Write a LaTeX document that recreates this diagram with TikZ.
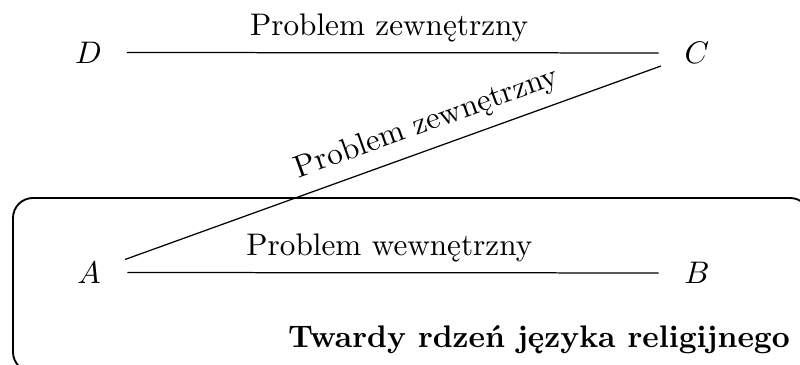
\documentclass[tikz,border=0pt]{standalone}
\usepackage{fontspec}
\begin{document}
\begin{tikzpicture}[x=0.3205pt,y=-0.3205pt,
  pt/.style={inner sep=3.333pt},
  conn/.style={line width=0.4pt,shorten <=12.3pt,shorten >=12.3pt},
  core/.style={line width=0.6pt,rounded corners=6.4pt},
  lab/.style={font=\normalsize,pos=0.494,above}]
\useasboundingbox (0,0) rectangle (800,365);
\clip (0,0) rectangle (800,365);
\draw[core] (13,198) rectangle (810,372);
\node[pt] (D) at (88.5,52.5) {$D$};
\node[pt] (C) at (697,53) {$C$};
\node[pt] (A) at (89,272.5) {$A$};
\node[pt] (B) at (697,273) {$B$};
\draw[conn] (D.center) -- node[lab] (l1) {Problem zewnętrzny} (C.center);
\draw[conn] (A.center) -- node[above,sloped,pos=0.57] (l2) {Problem zewnętrzny} (C.center);
\draw[conn] (A.center) -- node[lab] (l3) {Problem wewnętrzny} (B.center);
\node[anchor=base east,inner sep=0pt,font=\bfseries] (t) at (790.5,348) {Twardy rdzeń języka religijnego};
\end{tikzpicture}
\end{document}
